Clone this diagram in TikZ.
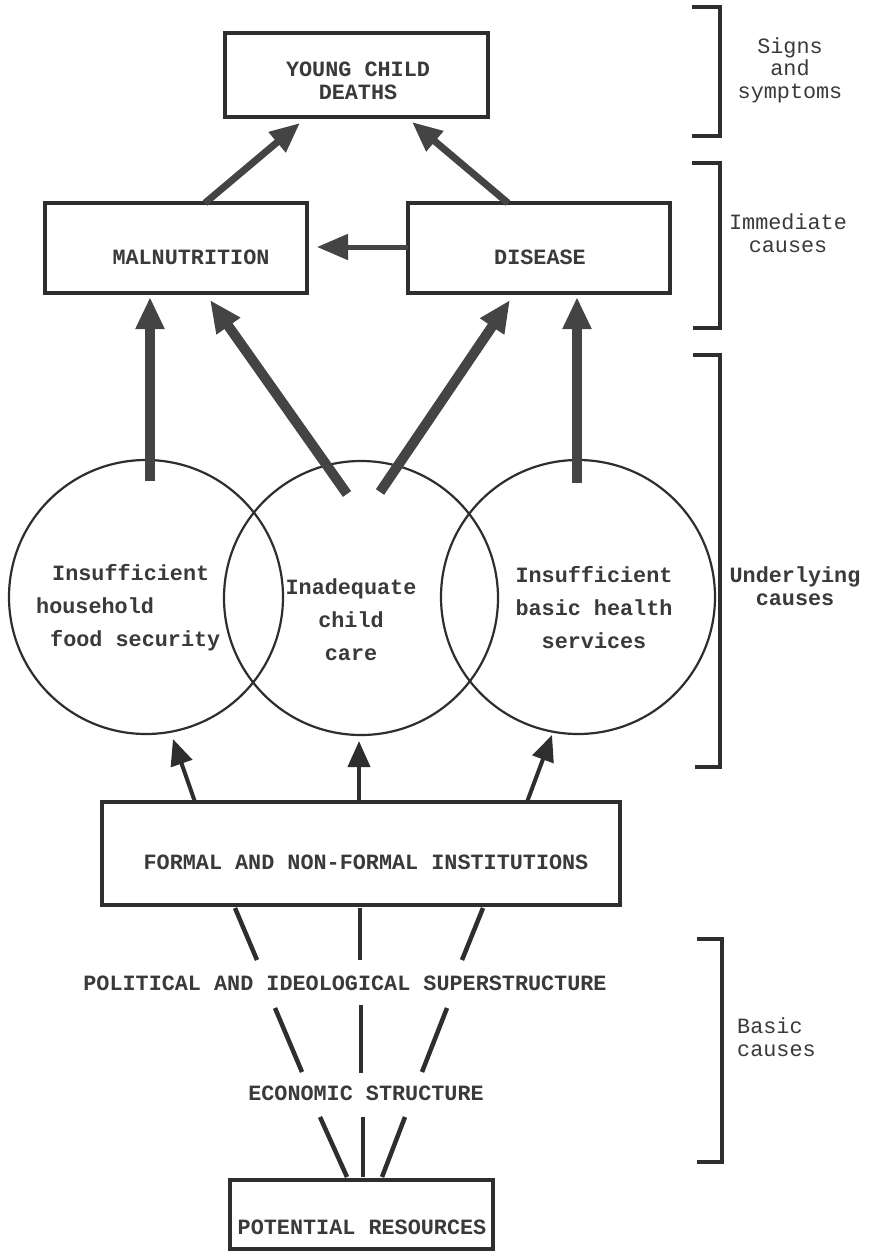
\documentclass[tikz,border=0pt]{standalone}
\usepackage{fontspec}
\newfontfamily\tw{Liberation Mono}
\usetikzlibrary{arrows.meta}
\definecolor{ink}{HTML}{2E2E2E}
\definecolor{txt}{HTML}{3A3A3A}
\definecolor{arr}{HTML}{444444}
\begin{document}
\begin{tikzpicture}[x=1pt,y=-1pt,
  box/.style={draw=ink, line width=4pt, inner sep=0pt},
  lbl/.style={text=txt, font=\tw\bfseries\fontsize{21.8}{22.5}\selectfont, inner sep=0pt, align=center},
  circtxt/.style={text=txt, font=\tw\bfseries\fontsize{21.8}{33}\selectfont, inner sep=0pt},
  side/.style={text=txt, font=\tw\fontsize{21.8}{22.5}\selectfont, inner sep=0pt, align=center},
  ring/.style={draw=ink, line width=2.2pt, circle, minimum size=274pt, inner sep=0pt},
  bigarrow/.style={draw=arr, line width=10pt, -{Triangle[length=32pt,width=27pt]}},
  midarrow/.style={draw=arr, line width=7pt, -{Triangle[length=30pt,width=25pt]}},
  thinarrow/.style={draw=arr, line width=5pt, -{Triangle[length=31pt,width=25pt]}},
  lowarrow/.style={draw=ink, line width=4pt, -{Triangle[length=26pt,width=22pt]}},
  link/.style={draw=ink, line width=4.5pt},
  bracket/.style={draw=ink, line width=3.5pt}]
\useasboundingbox (0,0) rectangle (872,1252);
\fill[white] (0,0) rectangle (872,1252);

% boxes
\node[box, minimum width=263pt, minimum height=84pt] (ycd) at (356.5,75) {};
\node[lbl] (ycdt) at (358,81) {YOUNG CHILD\\DEATHS};
\node[box, minimum width=262pt, minimum height=90pt] (mal) at (176,248) {};
\node[lbl] (malt) at (191,257) {MALNUTRITION};
\node[box, minimum width=262pt, minimum height=90pt] (dis) at (539,248) {};
\node[lbl] (dist) at (540,257) {DISEASE};
\node[box, minimum width=518pt, minimum height=103pt] (form) at (361,853.5) {};
\node[lbl] (formt) at (366,862) {FORMAL AND NON-FORMAL INSTITUTIONS};
\node[box, minimum width=263pt, minimum height=69pt] (pot) at (361.5,1214.5) {};
\node[lbl] (pott) at (362,1227) {POTENTIAL RESOURCES};
\node[lbl] (pol) at (345,983) {POLITICAL AND IDEOLOGICAL SUPERSTRUCTURE};
\node[lbl] (eco) at (366,1093) {ECONOMIC STRUCTURE};

% circles
\node[ring] (c1) at (146,597) {};
\node[ring] (c2) at (361,598) {};
\node[ring] (c3) at (578,597) {};
\node[circtxt, align=left, anchor=west] (c1t) at (36,608) {\hspace*{16pt}Insufficient\\household\\\hspace*{14pt}food security};
\node[circtxt, align=center] (c2t) at (351,620) {Inadequate\\child\\care};
\node[circtxt, align=center] (c3t) at (594,608) {Insufficient\\basic health\\services};

% connector end points
\coordinate (m1) at (205,203);   \coordinate (y1) at (300,123);
\coordinate (d1) at (508,203);   \coordinate (y2) at (412,122);
\coordinate (d2) at (408,247);   \coordinate (m2) at (317,247);
\coordinate (s1) at (150,481);   \coordinate (e1) at (150,297);
\coordinate (s2) at (347,494);   \coordinate (e2) at (210,300);
\coordinate (s3) at (380,492);   \coordinate (e3) at (510,300);
\coordinate (s4) at (577,483);   \coordinate (e4) at (577,297);
\coordinate (f1) at (195,802);   \coordinate (g1) at (173,739);
\coordinate (f2) at (359,802);   \coordinate (g2) at (359,741);
\coordinate (f3) at (527,802);   \coordinate (g3) at (552,735);

% arrows
\draw[midarrow] (m1) -- (y1);
\draw[midarrow] (d1) -- (y2);
\draw[thinarrow] (d2) -- (m2);
\draw[bigarrow] (s1) -- (e1);
\draw[bigarrow] (s2) -- (e2);
\draw[bigarrow] (s3) -- (e3);
\draw[bigarrow] (s4) -- (e4);
\draw[lowarrow] (f1) -- (g1);
\draw[lowarrow] (f2) -- (g2);
\draw[lowarrow] (f3) -- (g3);

% plain links
\coordinate (p1a) at (235,908); \coordinate (p1b) at (257,960);
\coordinate (p2a) at (360,908); \coordinate (p2b) at (360,960);
\coordinate (p3a) at (483,908); \coordinate (p3b) at (462,960);
\coordinate (q1a) at (275,1008); \coordinate (q1b) at (302,1072);
\coordinate (q2a) at (361,1005); \coordinate (q2b) at (361,1073);
\coordinate (q3a) at (447,1008); \coordinate (q3b) at (422,1072);
\coordinate (r1a) at (320,1117); \coordinate (r1b) at (347,1177);
\coordinate (r2a) at (363,1117); \coordinate (r2b) at (363,1177);
\coordinate (r3a) at (405,1117); \coordinate (r3b) at (382,1177);
\foreach \a/\b in {p1a/p1b,p2a/p2b,p3a/p3b,q1a/q1b,q2a/q2b,q3a/q3b,r1a/r1b,r2a/r2b,r3a/r3b}
  \draw[link] (\a) -- (\b);

% brackets
\draw[bracket] (692,7) -- (720,7) -- (720,136) -- (692,136);
\draw[bracket] (692,163) -- (720,163) -- (720,328) -- (693,328);
\draw[bracket] (693,355) -- (720,355) -- (720,767) -- (695,767);
\draw[bracket] (697,939) -- (722,939) -- (722,1162) -- (697,1162);
\node[side] (sig) at (790,70) {Signs\\and\\symptoms};
\node[side] (imm) at (788,233) {Immediate\\causes};
\node[side, font=\tw\bfseries\fontsize{21.8}{22.5}\selectfont] (und) at (795,586) {Underlying\\causes};
\node[side, align=left, anchor=west] (bas) at (737,1037) {Basic\\causes};
\end{tikzpicture}
\end{document}
